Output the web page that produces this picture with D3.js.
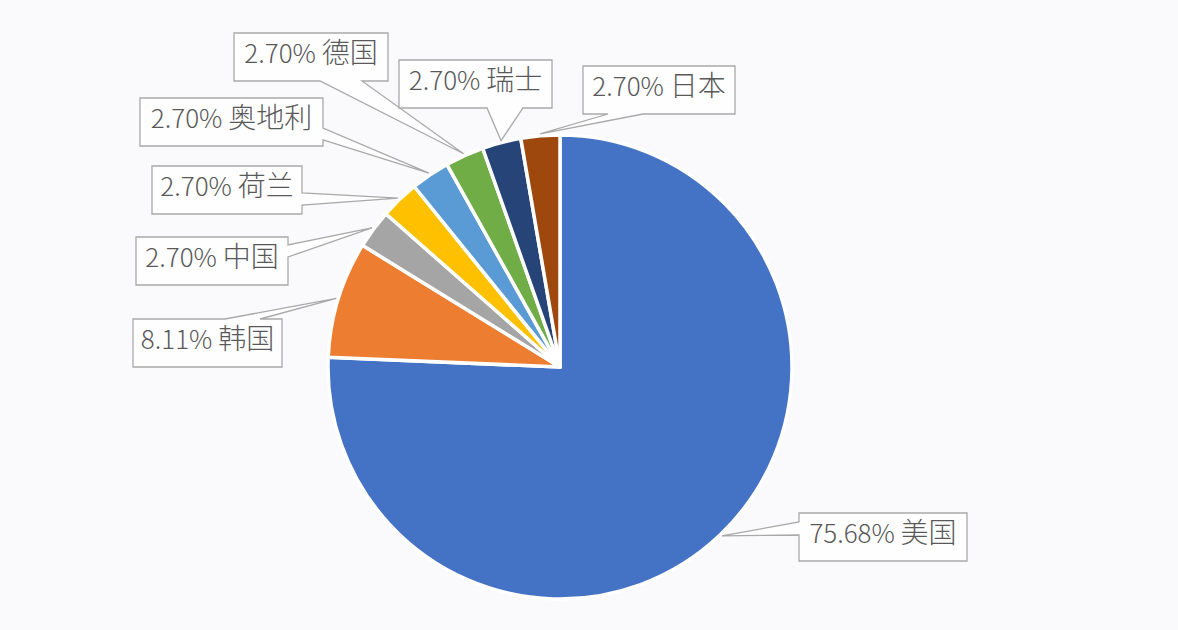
<!DOCTYPE html>
<html>
<head>
<meta charset="utf-8">
<script src="https://cdn.jsdelivr.net/npm/d3@7"></script>
<style>
  html, body { margin: 0; padding: 0; background: #fafafc; }
  svg { display: block; }
</style>
</head>
<body>
<svg id="chart" width="1178" height="630"></svg>
<script>
// ---- data ----
const countries = ["美国", "韩国", "中国", "荷兰", "奥地利", "德国", "瑞士", "日本"];
const counts    = [28, 3, 1, 1, 1, 1, 1, 1];
const colors    = ["#4472C4", "#ED7D31", "#A5A5A5", "#FFC000", "#5B9BD5", "#70AD47", "#264478", "#9E480E"];

// ---- layout of the callout boxes (side where the pointer leaves, pointer base offsets, box x, y, width) ----
const calloutLayout = [
  { side: "left",   a: 9,  b: 22,  x: 799, y: 513, w: 168 },
  { side: "top",    a: 92, b: 127, x: 133, y: 319, w: 149 },
  { side: "right",  a: 8,  b: 20,  x: 136, y: 237, w: 152 },
  { side: "right",  a: 27, b: 39,  x: 152, y: 166, w: 150 },
  { side: "right",  a: 30, b: 42,  x: 140, y: 98,  w: 183 },
  { side: "bottom", a: 86, b: 128, x: 234, y: 33,  w: 154 },
  { side: "bottom", a: 88, b: 124, x: 399, y: 60,  w: 153 },
  { side: "bottom", a: 25, b: 60,  x: 583, y: 66,  w: 152 }
];
const boxH = 48;

const svg = d3.select("#chart");
const cx = 560, cy = 367, R = 232;

const total = d3.sum(counts);
const fmt = d3.format(".2f");

const pie = d3.pie().sort(null).value(d => d)(counts);
const arc = d3.arc().innerRadius(0).outerRadius(R);
const anchorArc = d3.arc().innerRadius(R + 2).outerRadius(R + 2);

const g = svg.append("g").attr("transform", `translate(${cx},${cy})`);

g.selectAll("path.slice")
  .data(pie)
  .enter().append("path")
  .attr("class", "slice")
  .attr("d", arc)
  .attr("fill", (d, i) => colors[i])
  .attr("stroke", "#ffffff")
  .attr("stroke-width", 3.5)
  .attr("stroke-linejoin", "round");

// callouts
const callouts = svg.append("g");
pie.forEach((d, i) => {
  const L = calloutLayout[i];
  const c = anchorArc.centroid(d);
  const ax = cx + c[0], ay = cy + c[1];
  const x = L.x, y = L.y, w = L.w, h = boxH;
  let pts;
  if (L.side === "top") {
    pts = [[x, y], [x + L.a, y], [ax, ay], [x + L.b, y], [x + w, y], [x + w, y + h], [x, y + h]];
  } else if (L.side === "right") {
    pts = [[x, y], [x + w, y], [x + w, y + L.a], [ax, ay], [x + w, y + L.b], [x + w, y + h], [x, y + h]];
  } else if (L.side === "bottom") {
    pts = [[x, y], [x + w, y], [x + w, y + h], [x + L.b, y + h], [ax, ay], [x + L.a, y + h], [x, y + h]];
  } else {
    pts = [[x, y], [x + w, y], [x + w, y + h], [x, y + h], [x, y + L.b], [ax, ay], [x, y + L.a]];
  }
  callouts.append("path")
    .attr("d", d3.line()(pts) + "Z")
    .attr("fill", "#fefefe")
    .attr("stroke", "#a9a9a9")
    .attr("stroke-width", 1.3)
    .attr("stroke-linejoin", "miter");

  const t = callouts.append("text")
    .attr("x", x + w / 2)
    .attr("y", y + h / 2)
    .attr("dy", "0.36em")
    .attr("text-anchor", "middle")
    .attr("font-family", "'Noto Sans CJK SC', 'Noto Sans', sans-serif")
    .attr("font-weight", 300)
    .attr("fill", "#595959");
  t.append("tspan").attr("font-size", 26).text(fmt(counts[i] / total * 100) + "% ");
  t.append("tspan").attr("font-size", 28).text(countries[i]);
});
</script>
</body>
</html>
